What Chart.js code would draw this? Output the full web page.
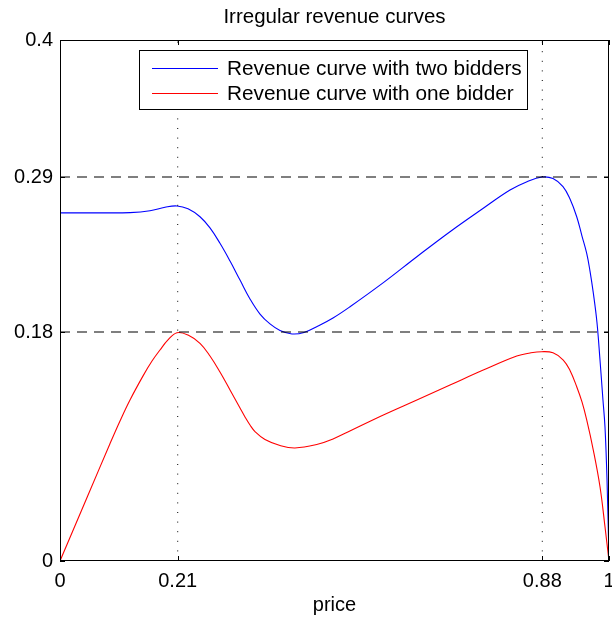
<!DOCTYPE html>
<html>
<head>
<meta charset="utf-8">
<script src="https://cdn.jsdelivr.net/npm/chart.js@4/dist/chart.umd.min.js"></script>
<style>
  html, body { margin: 0; padding: 0; background: #fff; }
  canvas { display: block; }
</style>
</head>
<body>
<canvas id="revenue_chart" width="612" height="618"></canvas>
<script>
// values
const priceTwo = [0, 0.0729, 0.1275, 0.1639, 0.1913, 0.2131, 0.2332, 0.255, 0.2732, 0.2914, 0.3097, 0.3279, 0.3461, 0.3643, 0.3825, 0.4007, 0.4226, 0.4444, 0.4676, 0.4973, 0.5282, 0.589, 0.650, 0.7104, 0.771, 0.8197, 0.8506, 0.878, 0.898, 0.9162, 0.929, 0.9412, 0.9508, 0.9594, 0.9654, 0.9714, 0.978, 0.9836, 0.989, 0.9927, 0.9964, 1];
const revenueTwo = [0.2673, 0.2673, 0.2675, 0.2689, 0.2716, 0.2726, 0.2704, 0.2643, 0.2557, 0.2439, 0.2303, 0.2157, 0.2012, 0.1896, 0.1820, 0.1770, 0.1743, 0.1754, 0.1799, 0.1866, 0.1952, 0.2137, 0.2336, 0.2528, 0.2708, 0.2848, 0.2912, 0.2948, 0.2936, 0.2874, 0.2779, 0.2643, 0.2495, 0.2362, 0.2226, 0.2058, 0.1835, 0.1543, 0.1236, 0.1029, 0.0622, 0];

const priceOne = [0, 0.05, 0.091, 0.1093, 0.1275, 0.1518, 0.1676, 0.1821, 0.1967, 0.2131, 0.2332, 0.255, 0.2732, 0.2914, 0.3097, 0.3279, 0.337, 0.3461, 0.3552, 0.3734, 0.4007, 0.428, 0.4676, 0.4973, 0.528, 0.589, 0.650, 0.7104, 0.771, 0.832, 0.8561, 0.8774, 0.898, 0.9167, 0.929, 0.9412, 0.9508, 0.9594, 0.9714, 0.9836, 0.9927, 1];
const revenueOne = [0, 0.0495, 0.0900, 0.1075, 0.1236, 0.1425, 0.1535, 0.1620, 0.1697, 0.1753, 0.1735, 0.1671, 0.1574, 0.1451, 0.1313, 0.1175, 0.1106, 0.1044, 0.0994, 0.0933, 0.0887, 0.0868, 0.0894, 0.0937, 0.0998, 0.1121, 0.1236, 0.1351, 0.1466, 0.1574, 0.1597, 0.1607, 0.1598, 0.1543, 0.1463, 0.1338, 0.1221, 0.1083, 0.0852, 0.0570, 0.0263, 0];

const refLevels = [0.1758, 0.2948];
const refPrices = [0.2144, 0.8785];

const xTicks = [0, 0.2144, 0.8785, 1];
const xTickLabels = ['0', '0.21', '0.88', '1'];
const yTicks = [0, 0.1758, 0.2948, 0.4];
const yTickLabels = ['0', '0.18', '0.29', '0.4'];

const chartTitle = 'Irregular revenue curves';
const seriesNames = ['Revenue curve with two bidders', 'Revenue curve with one bidder'];
const seriesColors = ['#0000ff', '#ff0000'];

const FONT = 'Liberation Sans, Arial, Helvetica, sans-serif';

function toPoints(xs, ys)
{
      return xs.map((x, i) => ({ x: x, y: ys[i] }));
}

const datasets = [];

refLevels.forEach(level =>
{
      datasets.push({
            data: [{ x: 0, y: level }, { x: 1, y: level }],
            borderColor: '#000',
            borderWidth: 1.2,
            borderDash: [10, 7],
            pointRadius: 0,
            showLine: true
      });
});

refPrices.forEach(p =>
{
      datasets.push({
            data: [{ x: p, y: 0 }, { x: p, y: 0.4 }],
            borderColor: '#000',
            borderWidth: 1,
            borderDash: [1, 8.6],
            pointRadius: 0,
            showLine: true
      });
});

datasets.push({
      label: seriesNames[0],
      data: toPoints(priceTwo, revenueTwo),
      borderColor: seriesColors[0],
      borderWidth: 1.1,
      pointRadius: 0,
      showLine: true,
      tension: 0.4
});

datasets.push({
      label: seriesNames[1],
      data: toPoints(priceOne, revenueOne),
      borderColor: seriesColors[1],
      borderWidth: 1.1,
      pointRadius: 0,
      showLine: true,
      tension: 0.4
});

// title centred on the plot, box around the plot, inward ticks and the legend box
const framePlugin = {
      id: 'frame',
      afterDraw(chart)
      {
            const ctx = chart.ctx;
            const a = chart.chartArea;
            const xs = chart.scales.x;
            const ys = chart.scales.y;
            ctx.save();

            ctx.fillStyle = '#000';
            ctx.font = '20.5px ' + FONT;
            ctx.textAlign = 'center';
            ctx.textBaseline = 'alphabetic';
            ctx.fillText(chartTitle, (a.left + a.right) / 2, 23);

            ctx.strokeStyle = '#000';
            ctx.lineWidth = 1;
            ctx.strokeRect(a.left + 0.5, a.top + 0.5, a.right - a.left - 1, a.bottom - a.top - 1);

            ctx.beginPath();
            xTicks.forEach(v =>
            {
                  const px = Math.round(xs.getPixelForValue(v)) + 0.5;
                  ctx.moveTo(px, a.bottom);
                  ctx.lineTo(px, a.bottom - 5);
                  ctx.moveTo(px, a.top);
                  ctx.lineTo(px, a.top + 5);
            });
            yTicks.forEach(v =>
            {
                  const py = Math.round(ys.getPixelForValue(v)) + 0.5;
                  ctx.moveTo(a.left, py);
                  ctx.lineTo(a.left + 5, py);
                  ctx.moveTo(a.right, py);
                  ctx.lineTo(a.right - 5, py);
            });
            ctx.stroke();

            // legend
            const lx = 139, ly = 50, lw = 388, lh = 59;
            ctx.fillStyle = '#fff';
            ctx.fillRect(lx, ly, lw, lh);
            ctx.strokeRect(lx + 0.5, ly + 0.5, lw, lh);
            ctx.font = '20.8px ' + FONT;
            ctx.textBaseline = 'middle';
            ctx.textAlign = 'left';
            seriesNames.forEach((name, i) =>
            {
                  const y = ly + 18 + i * 25;
                  ctx.strokeStyle = seriesColors[i];
                  ctx.beginPath();
                  ctx.moveTo(lx + 13, y + 0.5);
                  ctx.lineTo(lx + 79, y + 0.5);
                  ctx.stroke();
                  ctx.fillStyle = '#000';
                  ctx.fillText(name, lx + 88, y + 1);
            });
            ctx.restore();
      }
};

const config = {
      type: 'scatter',
      data: { datasets: datasets },
      options: {
            responsive: false,
            animation: false,
            layout: { padding: { left: 0, right: 3, top: 40, bottom: 0 } },
            plugins: {
                  legend: { display: false },
                  tooltip: { enabled: false },
                  title: { display: false }
            },
            scales: {
                  x: {
                        type: 'linear',
                        min: 0,
                        max: 1,
                        grid: { display: false, drawTicks: false },
                        border: { display: false },
                        afterBuildTicks: s => { s.ticks = xTicks.map(v => ({ value: v })); },
                        ticks: {
                              autoSkip: false,
                              maxRotation: 0,
                              padding: 8,
                              color: '#000',
                              font: { family: FONT, size: 20 },
                              callback: (v, i) => xTickLabels[i]
                        },
                        title: {
                              display: true,
                              text: 'price',
                              color: '#000',
                              font: { family: FONT, size: 20 },
                              padding: { top: 4, bottom: 1 }
                        },
                        afterFit: s =>
                        {
                              s.height = 57;
                              s.paddingLeft = 0;
                              s.paddingRight = 0;
                        }
                  },
                  y: {
                        type: 'linear',
                        min: 0,
                        max: 0.4,
                        grid: { display: false, drawTicks: false },
                        border: { display: false },
                        afterBuildTicks: s => { s.ticks = yTicks.map(v => ({ value: v })); },
                        ticks: {
                              autoSkip: false,
                              padding: 7,
                              color: '#000',
                              font: { family: FONT, size: 20 },
                              callback: (v, i) => yTickLabels[i]
                        },
                        afterFit: s =>
                        {
                              s.width = 60;
                              s.paddingTop = 0;
                              s.paddingBottom = 0;
                        }
                  }
            }
      },
      plugins: [framePlugin]
};

new Chart(document.getElementById('revenue_chart'), config);
</script>
</body>
</html>
